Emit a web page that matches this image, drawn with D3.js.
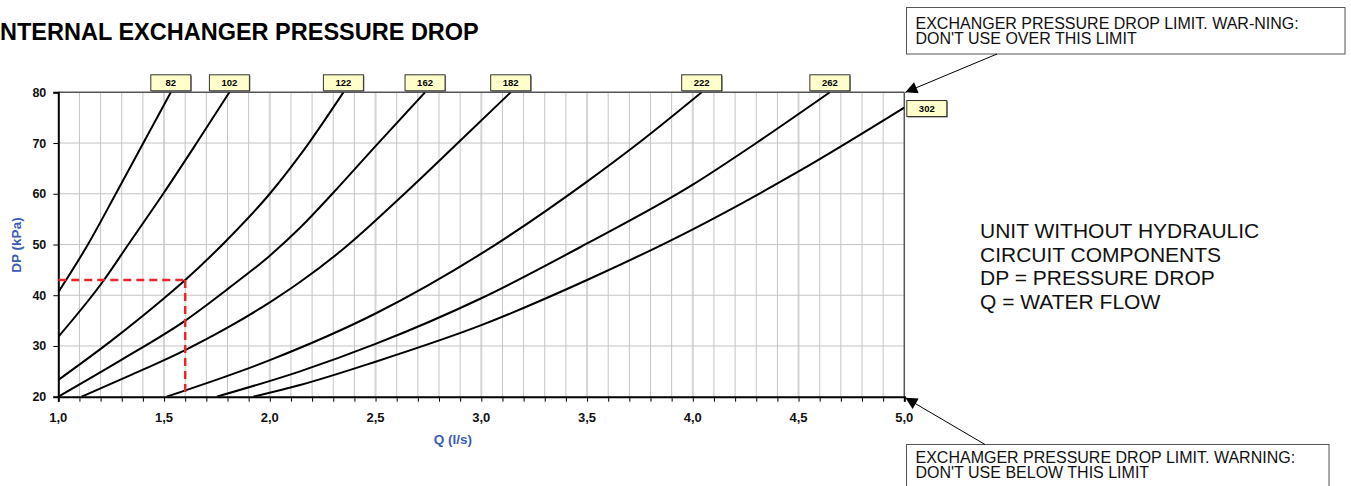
<!DOCTYPE html>
<html><head><meta charset="utf-8">
<script src="https://cdn.jsdelivr.net/npm/d3@7"></script>
<style>
html,body{margin:0;padding:0;background:#fff;}
svg{display:block;font-family:"Liberation Sans",Arial,Helvetica,sans-serif;}
</style></head>
<body>
<svg id="chart" width="1351" height="486"></svg>
<script>
// ---- data ----
const title = "INTERNAL EXCHANGER PRESSURE DROP";
const xTickValues = [1.0, 1.5, 2.0, 2.5, 3.0, 3.5, 4.0, 4.5, 5.0];
const xTickLabels = ["1,0","1,5","2,0","2,5","3,0","3,5","4,0","4,5","5,0"];
const yTickValues = [20, 30, 40, 50, 60, 70, 80];
const curveNames = ["82","102","122","162","182","222","262","302"];
const c82  = [[1.0,40.6],[1.14,50],[1.272,60],[1.402,70],[1.532,80]];
const c102 = [[1.0,31.8],[1.216,43],[1.331,50],[1.496,60],[1.654,70],[1.809,80]];
const c122 = [[1.0,23.3],[1.25,31],[1.5,39.4],[1.6,43],[1.8,51.0],[2.0,60.0],[2.143,67.6],[2.348,80]];
const c162 = [[1.0,20],[1.3,27.3],[1.6,35.0],[1.8,41.2],[2.0,47.8],[2.143,53.3],[2.3,60.2],[2.5,69.4],[2.734,80]];
const c182 = [[1.11,20],[1.35,24.4],[1.6,29.2],[1.8,33.6],[2.0,38.6],[2.143,42.6],[2.35,49.2],[2.624,59.5],[2.884,69.8],[3.139,80]];
const c222 = [[1.512,20],[2.0,27.2],[2.5,36.4],[3.0,48.2],[3.5,62.4],[3.75,70.2],[4.042,80]];
const c262 = [[1.749,20],[2.143,25.0],[2.5,30.4],[3.0,39.4],[3.5,50.2],[4.0,61.8],[4.3,70.0],[4.648,80]];
const c302 = [[1.922,20],[2.143,22.3],[2.5,26.9],[3.0,34.1],[3.5,43.0],[4.0,53.0],[4.5,64.4],[5.0,77.0]];
const curves = [c82,c102,c122,c162,c182,c222,c262,c302];
const refQ = 1.6, refDP = 43;
const noteTop = ["EXCHANGER PRESSURE DROP LIMIT. WAR-NING:", "DON'T USE OVER THIS LIMIT"];
const noteBottom = ["EXCHAMGER PRESSURE DROP LIMIT. WARNING:", "DON'T USE BELOW THIS LIMIT"];
const sideText = ["UNIT WITHOUT HYDRAULIC", "CIRCUIT COMPONENTS", "DP = PRESSURE DROP", "Q = WATER FLOW"];

// ---- layout ----
const svg = d3.select("#chart");
const L = 58.3, R = 904.3, T = 92.3, B = 396.7;
const x = d3.scaleLinear().domain([1, 5]).range([L, R]);
const y = d3.scaleLinear().domain([20, 80]).range([B, T]);

// title (its first letter is cut by the left edge, as in the reference)
svg.append("text").attr("x", -6.5).attr("y", 39.5)
  .attr("font-size", 23.5).attr("font-weight", "bold").attr("fill", "#000").text(title);

// grid
const vGrid = d3.range(11, 50).map(d => d / 10);
svg.append("g").selectAll("line").data(vGrid).join("line")
  .attr("x1", d => x(d)).attr("x2", d => x(d)).attr("y1", T).attr("y2", B)
  .attr("stroke", d => (Math.round(d*10) % 5 === 0) ? "#d4d4d4" : "#c4c4c4")
  .attr("stroke-width", d => (Math.round(d*10) % 5 === 0) ? 2 : 1);
svg.append("g").selectAll("line").data(yTickValues.slice(1, -1)).join("line")
  .attr("x1", L).attr("x2", R).attr("y1", d => y(d)).attr("y2", d => y(d))
  .attr("stroke", "#c4c4c4").attr("stroke-width", 1);

// frame top/right
svg.append("line").attr("x1", L).attr("x2", R).attr("y1", T).attr("y2", T).attr("stroke", "#555").attr("stroke-width", 1.5);
svg.append("line").attr("x1", R).attr("x2", R).attr("y1", T).attr("y2", B).attr("stroke", "#555").attr("stroke-width", 1.5);

// axes
const xAxis = d3.axisBottom(x).tickValues(d3.range(10, 51).map(d => d / 10)).tickSize(5).tickFormat("");
const gx = svg.append("g").attr("transform", `translate(0,${B})`).call(xAxis);
gx.select(".domain").attr("stroke", "#000").attr("stroke-width", 2);
gx.selectAll(".tick line").attr("stroke", "#000").attr("stroke-width", 1);
svg.append("g").selectAll("text").data(xTickValues).join("text")
  .attr("x", d => x(d)).attr("y", 422).attr("text-anchor", "middle")
  .attr("font-size", 13).attr("font-weight", "bold").attr("fill", "#111")
  .text((d, i) => xTickLabels[i]);

const yAxis = d3.axisLeft(y).tickValues(yTickValues).tickSize(5).tickPadding(7);
const gy = svg.append("g").attr("transform", `translate(${L},0)`).call(yAxis);
gy.select(".domain").attr("stroke", "#000").attr("stroke-width", 2);
gy.selectAll(".tick line").attr("stroke", "#000").attr("stroke-width", 1);
gy.selectAll(".tick text").attr("font-size", 12.5).attr("font-weight", "bold").attr("fill", "#111")
  .attr("font-family", "\"Liberation Sans\",Arial,sans-serif");

// axis titles
svg.append("text").attr("x", 453).attr("y", 443.5).attr("text-anchor", "middle")
  .attr("font-size", 13.5).attr("font-weight", "bold").attr("fill", "#3a5bb8").text("Q (l/s)");
svg.append("text").attr("transform", "translate(21,245) rotate(-90)").attr("text-anchor", "middle")
  .attr("font-size", 13.5).attr("font-weight", "bold").attr("fill", "#3a5bb8").text("DP (kPa)");

// clip
svg.append("clipPath").attr("id", "plotclip").append("rect")
  .attr("x", L).attr("y", T).attr("width", R - L).attr("height", B - T);

// curves
const line = d3.line().x(d => x(d[0])).y(d => y(d[1])).curve(d3.curveMonotoneX);
svg.append("g").attr("clip-path", "url(#plotclip)").selectAll("path").data(curves).join("path")
  .attr("d", line).attr("fill", "none").attr("stroke", "#000").attr("stroke-width", 2);

// reference dashed red lines
const refLines = [[[1.0, refDP], [refQ, refDP]], [[refQ, refDP], [refQ, 20]]];
svg.append("g").selectAll("path").data(refLines).join("path")
  .attr("d", d3.line().x(d => x(d[0])).y(d => y(d[1])))
  .attr("fill", "none").attr("stroke", "#e8262b").attr("stroke-width", 2.5).attr("stroke-dasharray", "8,5");

// curve labels
const lg = svg.append("g");
curves.forEach((c, i) => {
  const last = c[c.length - 1];
  let bx, by;
  if (last[1] >= 80) { bx = x(last[0]) - 20; by = T - 17.5; }
  else { bx = R + 2.5; by = y(last[1]) - 7; }
  lg.append("rect").attr("x", bx + 1).attr("y", by + 1).attr("width", 40).attr("height", 16).attr("fill", "#777");
  lg.append("rect").attr("x", bx).attr("y", by).attr("width", 40).attr("height", 16)
    .attr("fill", "#ffffcc").attr("stroke", "#333").attr("stroke-width", 1);
  lg.append("text").attr("x", bx + 20).attr("y", by + 11.3).attr("text-anchor", "middle")
    .attr("font-size", 9.5).attr("font-weight", "bold").attr("fill", "#000").text(curveNames[i]);
});

// annotation boxes
function note(bx, by, bw, bh, lines, baseline) {
  svg.append("rect").attr("x", bx).attr("y", by).attr("width", bw).attr("height", bh)
    .attr("fill", "#fff").attr("stroke", "#555").attr("stroke-width", 1);
  lines.forEach((t, i) => svg.append("text").attr("x", bx + 9).attr("y", baseline + i * 14.4)
    .attr("font-size", 16).attr("fill", "#111").text(t));
}
note(906.5, 7.5, 438.5, 46.5, noteTop, 29.3);
note(906.5, 444.5, 422.5, 60, noteBottom, 463.3);

// arrows
const defs = svg.append("defs");
defs.append("marker").attr("id", "arr").attr("viewBox", "0 0 10 10").attr("refX", 10).attr("refY", 5)
  .attr("markerWidth", 18).attr("markerHeight", 12).attr("markerUnits", "userSpaceOnUse").attr("orient", "auto")
  .append("path").attr("d", "M0,0 L10,5 L0,10 Z").attr("fill", "#000");
svg.append("line").attr("x1", 997).attr("y1", 54).attr("x2", R + 1).attr("y2", T)
  .attr("stroke", "#000").attr("stroke-width", 1).attr("marker-end", "url(#arr)");
svg.append("line").attr("x1", 985).attr("y1", 444.5).attr("x2", R + 1).attr("y2", B + 1)
  .attr("stroke", "#000").attr("stroke-width", 1).attr("marker-end", "url(#arr)");

// side text
svg.append("g").selectAll("text").data(sideText).join("text")
  .attr("x", 980).attr("y", (d, i) => 238 + i * 23.5)
  .attr("font-size", 21).attr("fill", "#111").text(d => d);
</script>
</body></html>
